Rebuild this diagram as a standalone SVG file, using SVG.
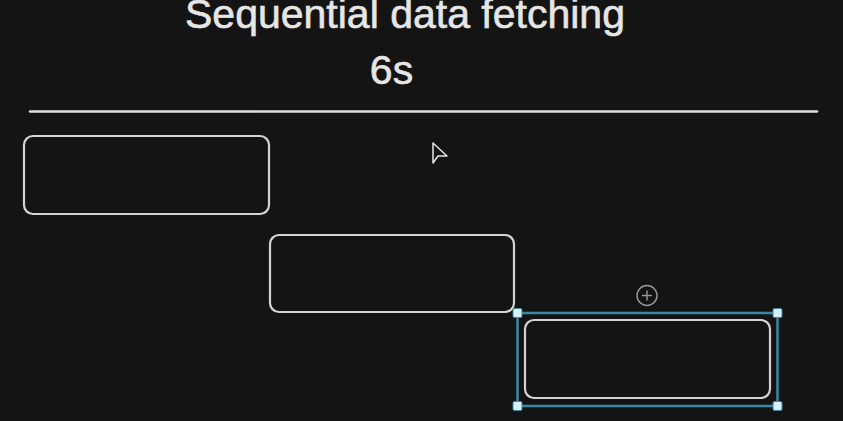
<svg xmlns="http://www.w3.org/2000/svg" width="843" height="421" viewBox="0 0 843 421">
<style>
.t{font-family:"Liberation Sans",Arial,sans-serif;font-size:41px;fill:#e6e6e6;stroke:#e6e6e6;stroke-width:0.6;text-anchor:middle}
.box{fill:none;stroke:#d4d4d4;stroke-width:2.2}
.sel{fill:none;stroke:#3a88a4;stroke-width:2.5}
.h{fill:#d6f0f4;stroke:#3a88a4;stroke-width:1}
</style>
<rect width="843" height="421" fill="#141414"/>
<g id="title"><text class="t" x="405" y="28">Sequential data fetching</text></g>
<g id="time"><text class="t" x="391.5" y="84">6s</text></g>
<g id="divider"><line x1="30" y1="111.5" x2="817" y2="111.5" stroke="#dedede" stroke-width="2.5" stroke-linecap="round"/></g>
<g id="connectors"></g>
<g id="task1"><rect class="box" x="24" y="136" width="245" height="78" rx="9"/></g>
<g id="task2"><rect class="box" x="270" y="235" width="244" height="77" rx="9"/></g>
<g id="task3"><rect class="box" x="525" y="320" width="245" height="78" rx="9"/></g>
<g id="selection">
<rect class="sel" x="517.5" y="313" width="260" height="93"/>
<rect class="h" x="513" y="308.5" width="9" height="9" rx="1.5"/>
<rect class="h" x="773" y="308.5" width="9" height="9" rx="1.5"/>
<rect class="h" x="513" y="401.5" width="9" height="9" rx="1.5"/>
<rect class="h" x="773" y="401.5" width="9" height="9" rx="1.5"/>
</g>
<g id="add-icon">
<circle cx="647" cy="295.5" r="10" fill="none" stroke="#9a9a9a" stroke-width="1.4"/>
<line x1="642" y1="295.5" x2="652" y2="295.5" stroke="#9a9a9a" stroke-width="1.4"/>
<line x1="647" y1="290.5" x2="647" y2="300.5" stroke="#9a9a9a" stroke-width="1.4"/>
</g>
<g id="cursor"><path d="M433 143 L433 163 L438 156 L447 156 Z" fill="#141414" stroke="#e6e6e6" stroke-width="1.5" stroke-linejoin="round"/></g>
</svg>
